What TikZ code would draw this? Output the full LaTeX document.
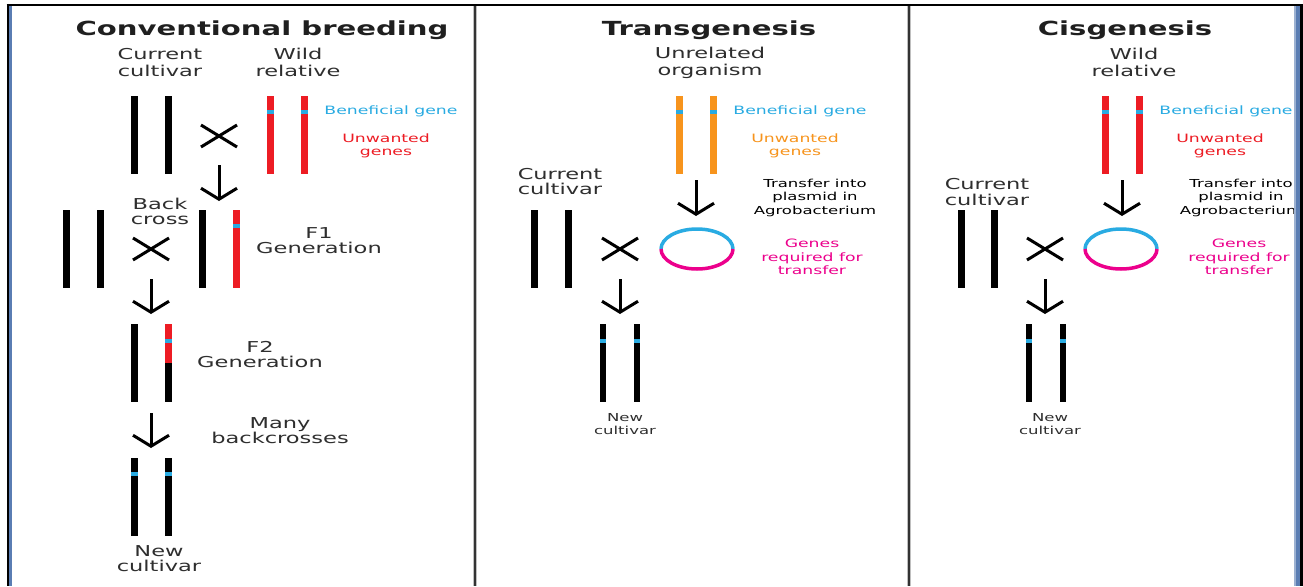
\documentclass[tikz,border=0pt]{standalone}
\usepackage{fontspec}
\setmainfont[FakeStretch=1.5]{DejaVu Sans}
\usetikzlibrary{arrows.meta}
\definecolor{gcyan}{HTML}{29ABE2}
\definecolor{gred}{HTML}{ED1C24}
\definecolor{gorange}{HTML}{F7941D}
\definecolor{gmag}{HTML}{EC008C}
\definecolor{txt}{HTML}{2E2E2E}
\definecolor{frameblue}{HTML}{5A7DB3}
\newcommand{\chrbar}[5][chrom]{\draw[#1,draw=#2] (#3,#4) -- (#3,#5);}
\newcommand{\genband}[3][chrom]{\draw[#1,draw=gcyan] (#2,#3-2) -- (#2,#3+2);}
\newcommand{\crossmark}[2]{\draw[crossline] (#1-18,#2-11) -- (#1+18,#2+11) (#1-18,#2+11) -- (#1+18,#2-11);}
\begin{document}
\begin{tikzpicture}[x=1pt,y=-1pt,
  title/.style={font=\fontsize{19.4}{24}\selectfont\bfseries, text=black!88, inner sep=0, anchor=base},
  lbl/.style={font=\fontsize{15}{15}\selectfont, text=txt, align=center, inner sep=0},
  toplbl/.style={font=\fontsize{15}{17}\selectfont, text=txt, align=center, inner sep=0},
  sml/.style={font=\fontsize{11.5}{13.5}\selectfont, align=center, inner sep=0},
  chrom/.style={line width=7pt},
  thinchrom/.style={line width=5.5pt},
  crossline/.style={line width=3pt, black},
  down/.style={line width=3pt, black, -{Straight Barb[length=11pt,width=36pt,line width=3pt]}},
  plasmid/.style={line width=3.5pt},
]
\useasboundingbox (0,0) rectangle (1303,586);
\clip (0,0) rectangle (1303,586);
\fill[white] (0,0) rectangle (1303,586);

% ---------------- Panel 1: Conventional breeding
\node[title] (t1) at (262,36) {Conventional breeding};
\node[toplbl] (cc1) at (160,62.5) {Current\\cultivar};
\node[toplbl] (wr1) at (298,62.5) {Wild\\relative};
\chrbar{black}{134}{96}{174}
\chrbar{black}{168}{96}{174}
\chrbar{gred}{270}{96}{174}
\chrbar{gred}{304}{96}{174}
\genband{270}{112}
\genband{304}{112}
\node[sml, text=gcyan] (bg1) at (391,111) {Beneficial gene};
\node[sml, text=gred] (ug1) at (386,146) {Unwanted\\genes};
\crossmark{219}{136}
\coordinate (a1s) at (219,165);
\coordinate (a1e) at (219,201);
\draw[down] (a1s) -- (a1e);

\node[lbl] (bc1) at (160,211.5) {Back\\cross};
\chrbar{black}{66}{210}{288}
\chrbar{black}{100}{210}{288}
\crossmark{151}{249}
\chrbar{black}{202}{210}{288}
\chrbar{gred}{236}{210}{288}
\genband{236}{226}
\node[lbl] (f1) at (319,240.5) {F1\\Generation};
\coordinate (a2s) at (151,279);
\coordinate (a2e) at (151,314);
\draw[down] (a2s) -- (a2e);

\chrbar{black}{134}{324}{402}
\chrbar{gred}{168}{324}{363}
\chrbar{black}{168}{363}{402}
\genband{168}{341}
\node[lbl] (f2) at (260,355) {F2\\Generation};
\coordinate (a3s) at (151,413);
\coordinate (a3e) at (151,448);
\draw[down] (a3s) -- (a3e);
\node[lbl] (mb) at (280,430.5) {Many\\backcrosses};

\chrbar{black}{134}{458}{536}
\chrbar{black}{168}{458}{536}
\genband{134}{474}
\genband{168}{474}
\node[lbl] (nc1) at (159,558.5) {New\\cultivar};

% ---------------- Panel 2: Transgenesis
\node[title] (t2) at (709,36) {Transgenesis};
\node[toplbl] (uo2) at (710,63) {Unrelated\\organism};
\chrbar{gorange}{679}{96}{174}
\chrbar{gorange}{713}{96}{174}
\genband{679}{112}
\genband{713}{112}
\node[sml, text=gcyan] (bg2) at (800,111) {Beneficial gene};
\node[sml, text=gorange] (ug2) at (795,146) {Unwanted\\genes};
\coordinate (b1s) at (696,180);
\coordinate (b1e) at (696,216);
\draw[down] (b1s) -- (b1e);
\node[sml, text=black, font=\fontsize{11}{13.5}\selectfont] (tr2) at (815,197.5) {Transfer into\\plasmid in\\Agrobacterium};
\coordinate (pl2) at (697,249);
\draw[plasmid, gcyan] (661,249) arc[start angle=180, end angle=360, x radius=36, y radius=20];
\draw[plasmid, gmag] (733,249) arc[start angle=0, end angle=180, x radius=36, y radius=20];
\node[sml, text=gmag] (gr2) at (812,257) {Genes\\required for\\transfer};
\node[lbl] (cc2) at (560,181.5) {Current\\cultivar};
\chrbar{black}{534}{210}{288}
\chrbar{black}{568}{210}{288}
\crossmark{620}{249}
\coordinate (b2s) at (620,279);
\coordinate (b2e) at (620,314);
\draw[down] (b2s) -- (b2e);
\chrbar[thinchrom]{black}{603}{324}{402}
\chrbar[thinchrom]{black}{637}{324}{402}
\genband[thinchrom]{603}{341}
\genband[thinchrom]{637}{341}
\node[sml, text=txt, font=\fontsize{11}{13}\selectfont] (nc2) at (625,424.5) {New\\cultivar};

% ---------------- Panel 3: Cisgenesis
\node[title] (t3) at (1125,36) {Cisgenesis};
\node[toplbl] (wr3) at (1134,62.5) {Wild\\relative};
\chrbar{gred}{1105}{96}{174}
\chrbar{gred}{1139}{96}{174}
\genband{1105}{112}
\genband{1139}{112}
\node[sml, text=gcyan] (bg3) at (1226,111) {Beneficial gene};
\node[sml, text=gred] (ug3) at (1220,146) {Unwanted\\genes};
\coordinate (c1s) at (1122,180);
\coordinate (c1e) at (1122,216);
\draw[down] (c1s) -- (c1e);
\node[sml, text=black, font=\fontsize{11}{13.5}\selectfont] (tr3) at (1241,197.5) {Transfer into\\plasmid in\\Agrobacterium};
\coordinate (pl3) at (1121,249);
\draw[plasmid, gcyan] (1085,249) arc[start angle=180, end angle=360, x radius=36, y radius=20];
\draw[plasmid, gmag] (1157,249) arc[start angle=0, end angle=180, x radius=36, y radius=20];
\node[sml, text=gmag] (gr3) at (1239,257) {Genes\\required for\\transfer};
\node[lbl, font=\fontsize{15}{16}\selectfont] (cc3) at (987,192) {Current\\cultivar};
\chrbar{black}{961}{210}{288}
\chrbar{black}{994}{210}{288}
\crossmark{1045}{249}
\coordinate (c2s) at (1045,279);
\coordinate (c2e) at (1045,314);
\draw[down] (c2s) -- (c2e);
\chrbar[thinchrom]{black}{1029}{324}{402}
\chrbar[thinchrom]{black}{1063}{324}{402}
\genband[thinchrom]{1029}{341}
\genband[thinchrom]{1063}{341}
\node[sml, text=txt, font=\fontsize{11}{13}\selectfont] (nc3) at (1050,424.5) {New\\cultivar};

% ---------------- Frame and dividers
\draw[line width=4pt, black!25] (474.5,5) -- (474.5,586);
\draw[line width=2pt, black!80] (474.5,5) -- (474.5,586);
\draw[line width=4pt, black!25] (908.5,5) -- (908.5,586);
\draw[line width=2pt, black!80] (908.5,5) -- (908.5,586);
\fill[frameblue] (8.5,5) rectangle (12,586);
\fill[frameblue!60] (1293.5,5) rectangle (1296,586);
\fill[frameblue] (1296,5) rectangle (1300,586);
\fill[black] (1300,4) rectangle (1303,586);
\draw[line width=2pt, black] (6.5,4.8) -- (1303,4.8);
\draw[line width=2pt, black] (7.5,4) -- (7.5,586);
\end{tikzpicture}
\end{document}
